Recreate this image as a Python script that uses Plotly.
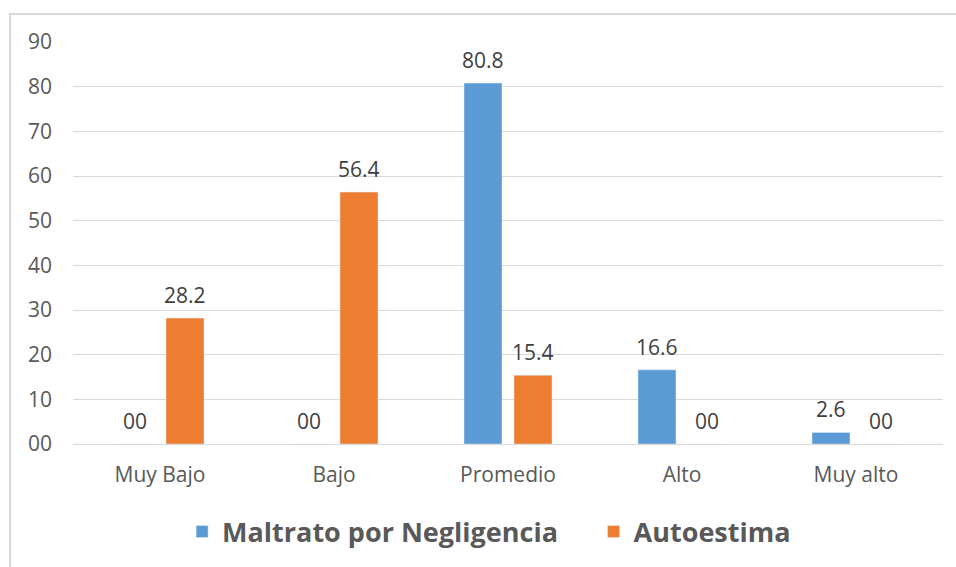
import plotly.graph_objects as go

categories = ["Muy Bajo", "Bajo", "Promedio", "Alto", "Muy alto"]
maltrato = [0, 0, 80.8, 16.6, 2.6]
autoestima = [28.2, 56.4, 15.4, 0, 0]
series_names = ["Maltrato por Negligencia", "Autoestima"]
y_tickvals = [0, 10, 20, 30, 40, 50, 60, 70, 80, 90]
y_ticktext = ["00", "10", "20", "30", "40", "50", "60", "70", "80", "90"]

BLUE = "#5B9BD5"
ORANGE = "#ED7D31"
TXT = "#595959"
FONT = "Open Sans"

def fmt(v):
    return "00" if v == 0 else f"{v:.1f}"

fig = go.Figure()
fig.add_trace(go.Bar(x=categories, y=maltrato, name=series_names[0], marker_color=BLUE,
                     legend="legend"))
fig.add_trace(go.Bar(x=categories, y=autoestima, name=series_names[1], marker_color=ORANGE,
                     legend="legend2"))

annotations = []
for vals, shift in ((maltrato, -25), (autoestima, 25)):
    for c, v in zip(categories, vals):
        annotations.append(dict(x=c, y=v, xref="x", yref="y", text=fmt(v),
                                showarrow=False, xshift=shift, yshift=7,
                                yanchor="bottom",
                                font=dict(family=FONT, size=21, color="#404040")))

legend_common = dict(orientation="h", xanchor="left", y=-0.216, yanchor="middle",
                     font=dict(family=FONT, size=27, color=TXT, weight="bold"),
                     bgcolor="rgba(0,0,0,0)", itemwidth=30)

fig.update_layout(
    width=956, height=567,
    margin=dict(l=73, r=13, t=42, b=122),
    paper_bgcolor="white", plot_bgcolor="white",
    barmode="group", bargap=0.425, bargroupgap=0.24,
    font=dict(family=FONT, color=TXT),
    annotations=annotations,
    showlegend=True,
    legend=dict(x=0.1254, **legend_common),
    legend2=dict(x=0.5984, **legend_common),
    shapes=[dict(type="rect", xref="paper", yref="paper",
                 x0=-0.0724, x1=1.03, y0=-0.35, y1=1.0695,
                 line=dict(color="#D9D9D9", width=2), fillcolor="rgba(0,0,0,0)",
                 layer="below")],
)
fig.update_yaxes(range=[0, 90], tickvals=y_tickvals, ticktext=y_ticktext,
                 showgrid=True, gridcolor="#D9D9D9", gridwidth=1,
                 zeroline=False, showline=False,
                 tickfont=dict(family=FONT, size=21, color=TXT),
                 ticklabelstandoff=20)
fig.update_xaxes(showgrid=False, showline=True, linecolor="#D9D9D9", linewidth=1,
                 tickfont=dict(family=FONT, size=21, color=TXT),
                 ticklabelstandoff=12)

fig.write_html("out.html")
